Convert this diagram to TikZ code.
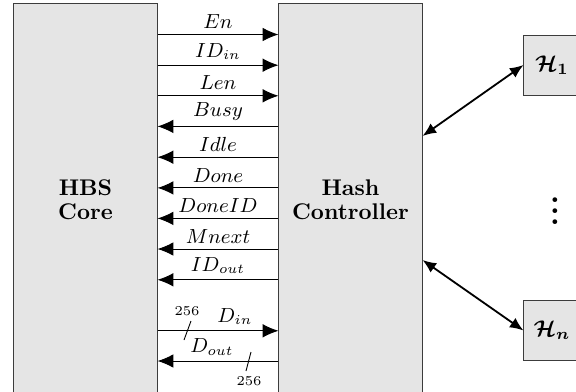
\documentclass[tikz,border=0pt]{standalone}
\usepackage{amsmath,amssymb}
\usetikzlibrary{arrows.meta}
\definecolor{boxgray}{RGB}{229,229,229}
\definecolor{edgegray}{RGB}{60,60,60}

\tikzset{
  blk/.style={draw=edgegray, fill=boxgray, align=center, font=\bfseries, inner sep=0pt},
  wire/.style={-{Latex[length=7pt,width=6pt]}},
  sig/.style={font=\small, inner sep=2.4pt},
  busw/.style={font=\fontsize{6}{7}\selectfont, inner sep=0pt},
  link/.style={{Latex[length=6pt,width=5pt]}-{Latex[length=6pt,width=5pt]}, thick},
}

\begin{document}
\begin{tikzpicture}[x=0.0155cm, y=-0.0155cm]
    \useasboundingbox (0,0) rectangle (576,391);
    % the two main blocks run off the bottom edge
    \node[blk, minimum width=2.22cm, minimum height=6.08cm] (core) at (85.5,200) {HBS\\[-1.5pt]Core};
    \node[blk, minimum width=2.22cm, minimum height=6.08cm] (ctrl) at (350.5,200) {Hash\\[-1.5pt]Controller};
    \node[blk, font=\boldmath, minimum width=0.87cm, minimum height=0.93cm] (h1) at (552,65) {$\mathcal{H}_1$};
    \node[blk, font=\boldmath, minimum width=0.87cm, minimum height=0.93cm] (hn) at (552,330.5) {$\mathcal{H}_n$};
    \node[font=\bfseries\boldmath\large, inner sep=0pt] (vd) at (555,203) {\scalebox{1.2}{$\vdots$}};
    % core -> controller
    \draw[wire] (core.east |- 0,34.5) -- (ctrl.west |- 0,34.5) node[sig, midway, above] {$En$}; % En
    \draw[wire] (core.east |- 0,65.2) -- (ctrl.west |- 0,65.2) node[sig, midway, above] {$ID_{in}$}; % ID_in
    \draw[wire] (core.east |- 0,95.8) -- (ctrl.west |- 0,95.8) node[sig, midway, above] {$Len$}; % Len
    % controller -> core
    \draw[wire] (ctrl.west |- 0,126.4) -- (core.east |- 0,126.4) node[sig, midway, above] {$Busy$}; % Busy
    \draw[wire] (ctrl.west |- 0,157.2) -- (core.east |- 0,157.2) node[sig, midway, above] {$Idle$}; % Idle
    \draw[wire] (ctrl.west |- 0,187.9) -- (core.east |- 0,187.9) node[sig, midway, above] {$Done$}; % Done
    \draw[wire] (ctrl.west |- 0,218.4) -- (core.east |- 0,218.4) node[sig, midway, above] {$DoneID$}; % DoneID
    \draw[wire] (ctrl.west |- 0,249) -- (core.east |- 0,249) node[sig, midway, above] {$Mnext$}; % Mnext
    \draw[wire] (ctrl.west |- 0,279.8) -- (core.east |- 0,279.8) node[sig, midway, above] {$ID_{out}$}; % ID_out
    % data buses
    \draw[wire] (core.east |- 0,330.8) -- (ctrl.west |- 0,330.8) node[sig, pos=0.64, above] {$D_{in}$}; % D_in
    \draw (191,321) -- (184,340);
    \node[busw] (win) at (187,311) {256};
    \draw[wire] (ctrl.west |- 0,361) -- (core.east |- 0,361) node[sig, pos=0.55, above] {$D_{out}$}; % D_out
    \draw (251,352) -- (246,371);
    \node[busw] (wout) at (249,381) {256};
    % controller <-> hash units
    \draw[link] (ctrl.east |- 0,136) -- (h1.west);
    \draw[link] (ctrl.east |- 0,260) -- (hn.west);
\end{tikzpicture}
\end{document}
